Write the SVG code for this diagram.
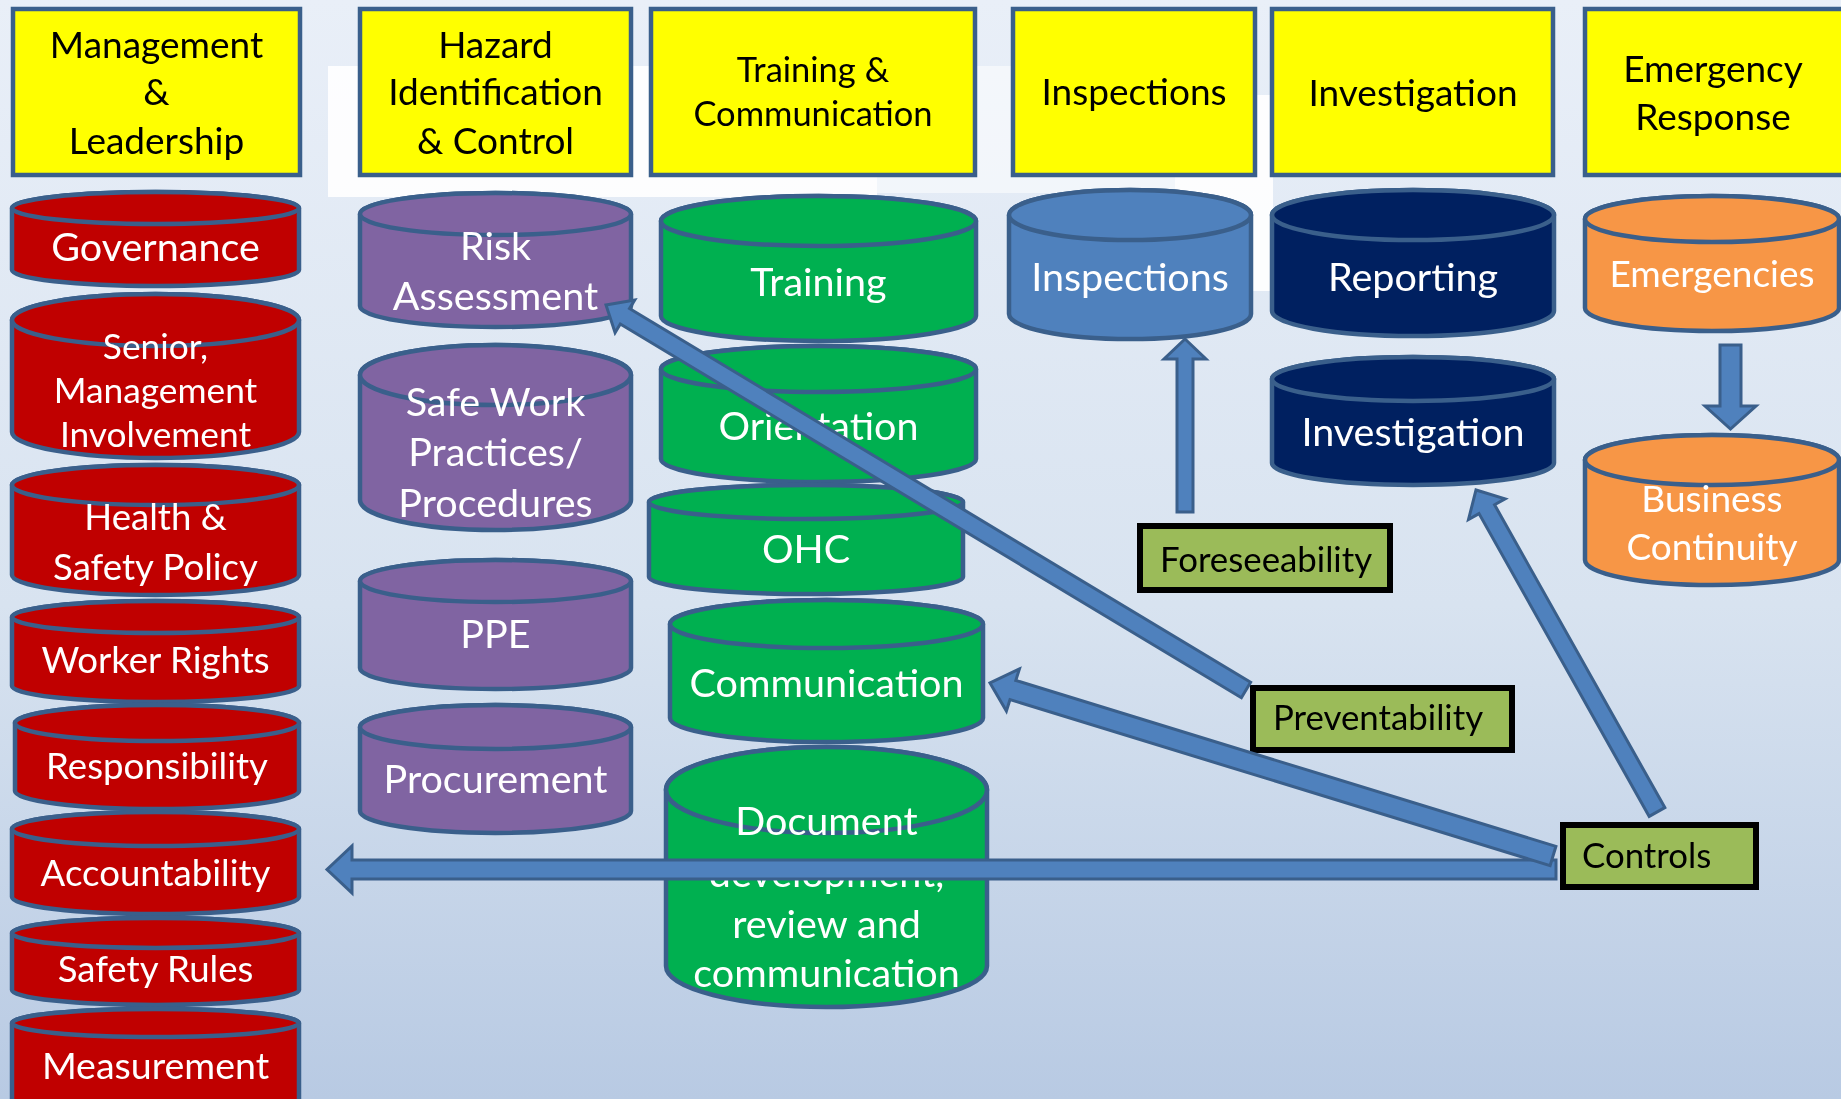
<svg xmlns="http://www.w3.org/2000/svg" width="1841" height="1099" viewBox="0 0 1841 1099">
<defs>
<linearGradient id="bg" x1="0" y1="0" x2="0" y2="1">
<stop offset="0" stop-color="#e9eff8"/>
<stop offset="0.55" stop-color="#d8e3f0"/>
<stop offset="1" stop-color="#b8cae3"/>
</linearGradient>
<style>
.hdr rect{fill:#ffff00;stroke:#3a5f8b;stroke-width:4.5}
.hdr text{font-family:Lato,"Liberation Sans",sans-serif;font-size:37px;fill:#000;text-anchor:middle}
.hdr text.sm{font-size:34.5px}
.cyl path,.cyl ellipse{stroke:#3a5f8b;stroke-width:4.5}
.cyl text{font-family:Lato,"Liberation Sans",sans-serif;font-size:39.5px;fill:#fff;text-anchor:middle}
.red text{font-size:36.6px}
.org text{font-size:37px}
#c-governance text{font-size:39.5px}
#c-senior text{font-size:35.3px}
#c-measurement text{font-size:37.5px}
.red path,.red ellipse{fill:#c00000}
.pur path,.pur ellipse{fill:#8064a2}
.grn path,.grn ellipse{fill:#00b050}
.blu path,.blu ellipse{fill:#4f81bd}
.nav path,.nav ellipse{fill:#002060}
.org path,.org ellipse{fill:#f79646}
.box rect{fill:#9bbb59;stroke:#000;stroke-width:6}
.box text{font-family:Lato,"Liberation Sans",sans-serif;font-size:34.8px;fill:#000}
.arr polygon{fill:#4f81bd;stroke:#3a5f8b;stroke-width:3;stroke-linejoin:miter}
</style>
</defs>
<rect width="1841" height="1099" fill="url(#bg)"/>
<g id="backdrop" fill="#ffffff" opacity="0.9">
<rect x="328" y="66" width="549" height="131"/>
<rect x="877" y="66" width="298" height="127" opacity="0.6"/>
<rect x="1175" y="95" width="98" height="196"/>
</g>

<g id="h-mgmt" class="hdr"><rect x="13" y="9" width="287" height="166"/>
<text x="156.5" y="58">Management</text><text x="156.5" y="105">&amp;</text><text x="156.5" y="154">Leadership</text></g>
<g id="h-hazard" class="hdr"><rect x="360" y="9" width="271" height="166"/>
<text x="495.5" y="58">Hazard</text><text x="495.5" y="105">Identification</text><text x="495.5" y="154">&amp; Control</text></g>
<g id="h-training" class="hdr"><rect x="651" y="9" width="324" height="166"/>
<text class="sm" x="813" y="82">Training &amp;</text><text class="sm" x="813" y="126">Communication</text></g>
<g id="h-inspections" class="hdr"><rect x="1013" y="9" width="242" height="166"/>
<text x="1134" y="105">Inspections</text></g>
<g id="h-investigation" class="hdr"><rect x="1272" y="9" width="281" height="166"/>
<text x="1413" y="106">Investigation</text></g>
<g id="h-emergency" class="hdr"><rect x="1585" y="9" width="262" height="166"/>
<text x="1713" y="82">Emergency</text><text x="1713" y="130">Response</text></g>

<!-- Red column -->
<g id="c-governance" class="cyl red"><path d="M12 208V270A143.5 16 0 0 0 299 270V208A143.5 16 0 0 0 12 208Z"/><ellipse cx="155.5" cy="208" rx="143.5" ry="16"/>
<text x="155.5" y="261">Governance</text></g>
<g id="c-senior" class="cyl red"><path d="M12 320V432A143.5 26 0 0 0 299 432V320A143.5 26 0 0 0 12 320Z"/><ellipse cx="155.5" cy="320" rx="143.5" ry="26"/>
<text x="155.5" y="359">Senior,</text><text x="155.5" y="403">Management</text><text x="155.5" y="447">Involvement</text></g>
<g id="c-health" class="cyl red"><path d="M12 485V575A143.5 20 0 0 0 299 575V485A143.5 20 0 0 0 12 485Z"/><ellipse cx="155.5" cy="485" rx="143.5" ry="20"/>
<text x="155.5" y="530">Health &amp;</text><text x="155.5" y="580">Safety Policy</text></g>
<g id="c-worker" class="cyl red"><path d="M12 617V686A143.5 16 0 0 0 299 686V617A143.5 16 0 0 0 12 617Z"/><ellipse cx="155.5" cy="617" rx="143.5" ry="16"/>
<text x="155.5" y="673">Worker Rights</text></g>
<g id="c-responsibility" class="cyl red"><path d="M15 723V791A142 18 0 0 0 299 791V723A142 18 0 0 0 15 723Z"/><ellipse cx="157" cy="723" rx="142" ry="18"/>
<text x="157" y="779">Responsibility</text></g>
<g id="c-accountability" class="cyl red"><path d="M12 829V897A143.5 17 0 0 0 299 897V829A143.5 17 0 0 0 12 829Z"/><ellipse cx="155.5" cy="829" rx="143.5" ry="17"/>
<text x="155.5" y="886">Accountability</text></g>
<g id="c-safetyrules" class="cyl red"><path d="M12 933V990A143.5 15 0 0 0 299 990V933A143.5 15 0 0 0 12 933Z"/><ellipse cx="155.5" cy="933" rx="143.5" ry="15"/>
<text x="155.5" y="982">Safety Rules</text></g>
<g id="c-measurement" class="cyl red"><path d="M12 1023V1100A143.5 14 0 0 0 299 1100V1023A143.5 14 0 0 0 12 1023Z"/><ellipse cx="155.5" cy="1023" rx="143.5" ry="14"/>
<text x="155.5" y="1079">Measurement</text></g>

<!-- Purple column -->
<g id="c-risk" class="cyl pur"><path d="M360 214V306A135.5 21 0 0 0 631 306V214A135.5 21 0 0 0 360 214Z"/><ellipse cx="495.5" cy="214" rx="135.5" ry="21"/>
<text x="495.5" y="260">Risk</text><text x="495.5" y="310">Assessment</text></g>
<g id="c-safework" class="cyl pur"><path d="M360 375V500A135.5 30 0 0 0 631 500V375A135.5 30 0 0 0 360 375Z"/><ellipse cx="495.5" cy="375" rx="135.5" ry="30"/>
<text x="495.5" y="416">Safe Work</text><text x="495.5" y="466">Practices/</text><text x="495.5" y="517">Procedures</text></g>
<g id="c-ppe" class="cyl pur"><path d="M360 581V668A135.5 21 0 0 0 631 668V581A135.5 21 0 0 0 360 581Z"/><ellipse cx="495.5" cy="581" rx="135.5" ry="21"/>
<text x="495.5" y="648">PPE</text></g>
<g id="c-procurement" class="cyl pur"><path d="M360 727V811A135.5 22 0 0 0 631 811V727A135.5 22 0 0 0 360 727Z"/><ellipse cx="495.5" cy="727" rx="135.5" ry="22"/>
<text x="495.5" y="793">Procurement</text></g>

<!-- Green column -->
<g id="c-training" class="cyl grn"><path d="M661 221V316A157.5 25 0 0 0 976 316V221A157.5 25 0 0 0 661 221Z"/><ellipse cx="818.5" cy="221" rx="157.5" ry="25"/>
<text x="818.5" y="296">Training</text></g>
<g id="c-orientation" class="cyl grn"><path d="M661 369V459A157.5 23 0 0 0 976 459V369A157.5 23 0 0 0 661 369Z"/><ellipse cx="818.5" cy="369" rx="157.5" ry="23"/>
<text x="818.5" y="440">Orientation</text></g>
<g id="c-ohc" class="cyl grn"><path d="M649 502V577A157 17 0 0 0 963 577V502A157 17 0 0 0 649 502Z"/><ellipse cx="806" cy="502" rx="157" ry="17"/>
<text x="806" y="563">OHC</text></g>
<g id="c-communication" class="cyl grn"><path d="M670 624V718A156.5 24 0 0 0 983 718V624A156.5 24 0 0 0 670 624Z"/><ellipse cx="826.5" cy="624" rx="156.5" ry="24"/>
<text x="826.5" y="697">Communication</text></g>
<g id="c-document" class="cyl grn"><path d="M666 790V966A160.5 41 0 0 0 987 966V790A160.5 43 0 0 0 666 790Z"/><ellipse cx="826.5" cy="790" rx="160.5" ry="43"/>
<text x="826.5" y="835">Document</text><text x="826.5" y="887">development,</text><text x="826.5" y="938">review and</text><text x="826.5" y="987">communication</text></g>

<!-- Inspections -->
<g id="c-inspections" class="cyl blu"><path d="M1009 215V314A121 25 0 0 0 1251 314V215A121 25 0 0 0 1009 215Z"/><ellipse cx="1130" cy="215" rx="121" ry="25"/>
<text x="1130" y="291">Inspections</text></g>

<!-- Investigation column -->
<g id="c-reporting" class="cyl nav"><path d="M1272 215V311A141 25 0 0 0 1554 311V215A141 25 0 0 0 1272 215Z"/><ellipse cx="1413" cy="215" rx="141" ry="25"/>
<text x="1413" y="291">Reporting</text></g>
<g id="c-investigation" class="cyl nav"><path d="M1272 379V463A141 22 0 0 0 1554 463V379A141 22 0 0 0 1272 379Z"/><ellipse cx="1413" cy="379" rx="141" ry="22"/>
<text x="1413" y="446">Investigation</text></g>

<!-- Emergency column -->
<g id="c-emergencies" class="cyl org"><path d="M1585 219V308A127 23 0 0 0 1839 308V219A127 23 0 0 0 1585 219Z"/><ellipse cx="1712" cy="219" rx="127" ry="23"/>
<text x="1712" y="287">Emergencies</text></g>
<g id="c-business" class="cyl org"><path d="M1585 460V560A127 25 0 0 0 1839 560V460A127 25 0 0 0 1585 460Z"/><ellipse cx="1712" cy="460" rx="127" ry="25"/>
<text x="1712" y="512">Business</text><text x="1712" y="560">Continuity</text></g>

<!-- Green label boxes -->
<g id="b-foreseeability" class="box"><rect x="1140" y="526" width="250" height="64"/><text x="1160" y="572">Foreseeability</text></g>
<g id="b-preventability" class="box"><rect x="1253" y="688" width="259" height="62"/><text x="1273" y="730">Preventability</text></g>
<g id="b-controls" class="box"><rect x="1563" y="825" width="193" height="62"/><text x="1582" y="868">Controls</text></g>

<!-- Connectors -->
<g id="connectors" class="arr">
<polygon points="1177,512 1193,512 1193,359 1206,359 1185,339 1164,359 1177,359"/>
<polygon points="1720,345 1741,345 1741,406 1756,406 1730.5,429 1705,406 1720,406"/>
<polygon points="1556,860 352,860 352,846 327,869.5 352,893 352,879 1556,879"/>
<polygon points="1555.9,846.4 1015.8,680.4 1019.4,669 990,683 1006.4,711 1010,699.6 1550.1,865.6"/>
<polygon points="1250.6,682.3 629.5,308.6 634.7,300 606,305 615.1,332.6 620.3,324 1241.4,697.7"/>
<polygon points="1664.8,807.6 1494.6,504.8 1505.1,498.9 1476,490 1468.5,519.5 1479,513.6 1649.2,816.4"/>
</g>
</svg>
